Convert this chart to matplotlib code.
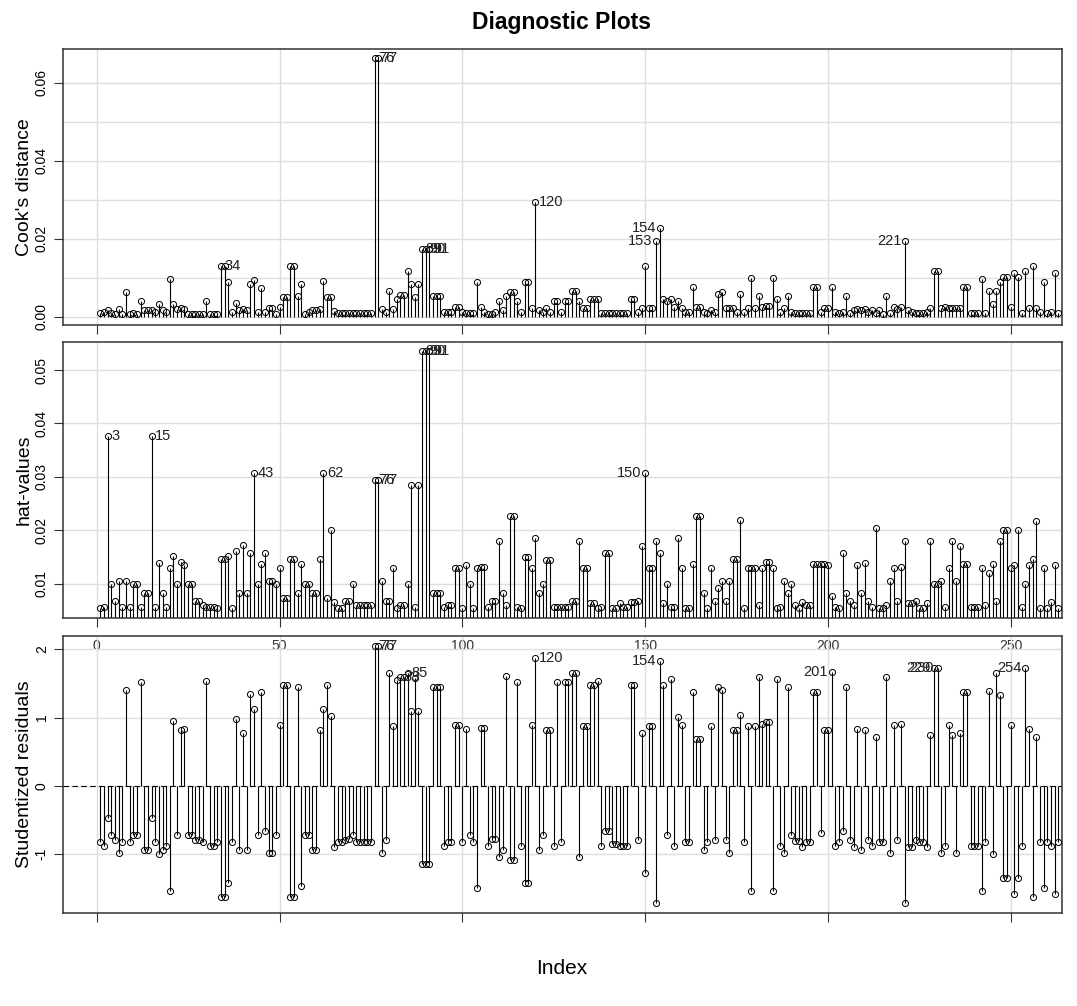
import numpy as np
import matplotlib.pyplot as plt

plt.rcParams['font.family'] = ['Liberation Sans', 'DejaVu Sans']

cooks_d = [
    0.0009, 0.0012, 0.0017, 0.0009, 0.0008, 0.0020, 0.0008, 0.0064, 0.0008, 0.0010,
    0.0008, 0.0041, 0.0017, 0.0017, 0.0017, 0.0012, 0.0032, 0.0017, 0.0012, 0.0097,
    0.0032, 0.0020, 0.0022, 0.0020, 0.0008, 0.0008, 0.0008, 0.0008, 0.0008, 0.0041,
    0.0008, 0.0008, 0.0008, 0.0130, 0.0130, 0.0088, 0.0012, 0.0034, 0.0017, 0.0020,
    0.0017, 0.0083, 0.0093, 0.0012, 0.0074, 0.0012, 0.0021, 0.0021, 0.0008, 0.0026,
    0.0050, 0.0050, 0.0130, 0.0130, 0.0054, 0.0085, 0.0008, 0.0012, 0.0017, 0.0017,
    0.0020, 0.0091, 0.0050, 0.0050, 0.0015, 0.0010, 0.0010, 0.0010, 0.0010, 0.0010,
    0.0010, 0.0010, 0.0010, 0.0010, 0.0010, 0.0662, 0.0662, 0.0020, 0.0012, 0.0067,
    0.0020, 0.0045, 0.0056, 0.0056, 0.0118, 0.0083, 0.0050, 0.0083, 0.0174, 0.0174,
    0.0174, 0.0054, 0.0054, 0.0054, 0.0012, 0.0012, 0.0012, 0.0024, 0.0024, 0.0012,
    0.0010, 0.0010, 0.0010, 0.0088, 0.0024, 0.0012, 0.0008, 0.0008, 0.0012, 0.0041,
    0.0017, 0.0054, 0.0062, 0.0062, 0.0041, 0.0012, 0.0088, 0.0088, 0.0021, 0.0295,
    0.0017, 0.0012, 0.0021, 0.0012, 0.0040, 0.0040, 0.0012, 0.0041, 0.0041, 0.0067,
    0.0067, 0.0041, 0.0021, 0.0021, 0.0045, 0.0045, 0.0045, 0.0010, 0.0010, 0.0010,
    0.0010, 0.0010, 0.0010, 0.0010, 0.0010, 0.0045, 0.0045, 0.0012, 0.0021, 0.0130,
    0.0021, 0.0021, 0.0195, 0.0228, 0.0045, 0.0041, 0.0045, 0.0026, 0.0040, 0.0021,
    0.0012, 0.0012, 0.0075, 0.0026, 0.0026, 0.0012, 0.0010, 0.0017, 0.0012, 0.0057,
    0.0064, 0.0021, 0.0021, 0.0021, 0.0012, 0.0057, 0.0012, 0.0021, 0.0098, 0.0021,
    0.0054, 0.0026, 0.0028, 0.0028, 0.0098, 0.0045, 0.0012, 0.0021, 0.0054, 0.0012,
    0.0010, 0.0010, 0.0010, 0.0010, 0.0010, 0.0075, 0.0075, 0.0012, 0.0021, 0.0021,
    0.0075, 0.0012, 0.0010, 0.0012, 0.0054, 0.0010, 0.0017, 0.0020, 0.0017, 0.0020,
    0.0012, 0.0017, 0.0010, 0.0017, 0.0008, 0.0054, 0.0010, 0.0026, 0.0020, 0.0026,
    0.0195, 0.0017, 0.0012, 0.0010, 0.0010, 0.0010, 0.0012, 0.0021, 0.0118, 0.0118,
    0.0021, 0.0026, 0.0021, 0.0021, 0.0021, 0.0021, 0.0075, 0.0075, 0.0010, 0.0010,
    0.0010, 0.0097, 0.0010, 0.0067, 0.0032, 0.0067, 0.0088, 0.0101, 0.0101, 0.0024,
    0.0111, 0.0101, 0.0010, 0.0118, 0.0021, 0.0130, 0.0021, 0.0012, 0.0088, 0.0010,
    0.0012, 0.0111, 0.0010,
]

hat_values = [
    0.0054, 0.0057, 0.0377, 0.0100, 0.0068, 0.0105, 0.0057, 0.0105, 0.0057, 0.0100,
    0.0100, 0.0057, 0.0082, 0.0082, 0.0377, 0.0057, 0.0138, 0.0082, 0.0057, 0.0129,
    0.0152, 0.0100, 0.0141, 0.0135, 0.0100, 0.0100, 0.0068, 0.0068, 0.0060, 0.0057,
    0.0057, 0.0057, 0.0054, 0.0146, 0.0146, 0.0152, 0.0054, 0.0161, 0.0082, 0.0172,
    0.0082, 0.0157, 0.0308, 0.0100, 0.0137, 0.0158, 0.0105, 0.0105, 0.0100, 0.0129,
    0.0073, 0.0073, 0.0146, 0.0146, 0.0082, 0.0137, 0.0100, 0.0100, 0.0082, 0.0082,
    0.0146, 0.0308, 0.0073, 0.0200, 0.0065, 0.0055, 0.0055, 0.0068, 0.0068, 0.0100,
    0.0060, 0.0060, 0.0060, 0.0060, 0.0060, 0.0294, 0.0294, 0.0105, 0.0068, 0.0068,
    0.0129, 0.0054, 0.0060, 0.0060, 0.0100, 0.0284, 0.0057, 0.0284, 0.0536, 0.0536,
    0.0536, 0.0082, 0.0082, 0.0082, 0.0057, 0.0060, 0.0060, 0.0129, 0.0129, 0.0054,
    0.0135, 0.0100, 0.0054, 0.0129, 0.0132, 0.0132, 0.0057, 0.0068, 0.0068, 0.0180,
    0.0082, 0.0060, 0.0227, 0.0227, 0.0057, 0.0055, 0.0150, 0.0150, 0.0129, 0.0185,
    0.0082, 0.0100, 0.0144, 0.0144, 0.0057, 0.0057, 0.0057, 0.0057, 0.0057, 0.0068,
    0.0068, 0.0180, 0.0129, 0.0129, 0.0064, 0.0064, 0.0054, 0.0057, 0.0158, 0.0158,
    0.0054, 0.0054, 0.0064, 0.0057, 0.0057, 0.0066, 0.0066, 0.0068, 0.0171, 0.0308,
    0.0129, 0.0129, 0.0180, 0.0158, 0.0064, 0.0100, 0.0057, 0.0057, 0.0185, 0.0129,
    0.0054, 0.0054, 0.0137, 0.0227, 0.0227, 0.0082, 0.0054, 0.0129, 0.0068, 0.0091,
    0.0105, 0.0068, 0.0105, 0.0146, 0.0146, 0.0219, 0.0054, 0.0129, 0.0129, 0.0129,
    0.0060, 0.0130, 0.0141, 0.0141, 0.0129, 0.0054, 0.0057, 0.0105, 0.0082, 0.0100,
    0.0060, 0.0054, 0.0066, 0.0060, 0.0060, 0.0137, 0.0137, 0.0137, 0.0137, 0.0135,
    0.0076, 0.0057, 0.0054, 0.0158, 0.0082, 0.0068, 0.0060, 0.0135, 0.0082, 0.0139,
    0.0068, 0.0057, 0.0204, 0.0054, 0.0054, 0.0060, 0.0105, 0.0129, 0.0068, 0.0132,
    0.0180, 0.0064, 0.0064, 0.0068, 0.0054, 0.0054, 0.0064, 0.0180, 0.0100, 0.0100,
    0.0105, 0.0057, 0.0129, 0.0180, 0.0105, 0.0171, 0.0137, 0.0137, 0.0057, 0.0057,
    0.0057, 0.0129, 0.0060, 0.0120, 0.0137, 0.0068, 0.0180, 0.0200, 0.0200, 0.0129,
    0.0135, 0.0200, 0.0057, 0.0100, 0.0135, 0.0146, 0.0217, 0.0054, 0.0129, 0.0054,
    0.0066, 0.0135, 0.0054,
]

stud_resid = [
    -0.83, -0.885, -0.48, -0.73, -0.80, -0.98, -0.83, 1.41, -0.83, -0.73,
    -0.73, 1.52, -0.94, -0.94, -0.48, -0.83, -1.00, -0.94, -0.885, -1.54,
    0.95, -0.73, 0.82, 0.83, -0.73, -0.73, -0.80, -0.80, -0.82, 1.54,
    -0.885, -0.885, -0.82, -1.63, -1.63, -1.42, -0.83, 0.98, -0.94, 0.77,
    -0.94, 1.35, 1.12, -0.73, 1.37, -0.67, -0.98, -0.98, -0.73, 0.89,
    1.48, 1.48, -1.63, -1.63, 1.45, -1.47, -0.73, -0.73, -0.94, -0.94,
    0.81, 1.12, 1.48, 1.02, -0.90, -0.83, -0.83, -0.80, -0.78, -0.73,
    -0.82, -0.82, -0.82, -0.82, -0.82, 2.05, 2.05, -0.98, -0.80, 1.65,
    0.87, 1.55, 1.60, 1.60, 1.65, 1.10, 1.58, 1.10, -1.15, -1.15,
    -1.15, 1.45, 1.45, 1.45, -0.885, -0.82, -0.82, 0.89, 0.89, -0.83,
    0.83, -0.73, -0.83, -1.50, 0.85, 0.85, -0.885, -0.78, -0.78, -1.04,
    -0.94, 1.61, -1.09, -1.09, 1.52, -0.885, -1.42, -1.42, 0.89, 1.87,
    -0.94, -0.73, 0.81, 0.81, -0.885, 1.52, -0.82, 1.52, 1.52, 1.65,
    1.65, -1.05, 0.87, 0.87, 1.48, 1.48, 1.54, -0.885, -0.67, -0.67,
    -0.86, -0.86, -0.885, -0.885, -0.885, 1.48, 1.48, -0.80, 0.77, -1.28,
    0.87, 0.87, -1.72, 1.83, 1.48, -0.73, 1.56, -0.885, 1.01, 0.89,
    -0.83, -0.83, 1.37, 0.68, 0.68, -0.94, -0.83, 0.87, -0.80, 1.44,
    1.41, -0.80, -0.98, 0.82, 0.82, 1.04, -0.83, 0.87, -1.54, 0.87,
    1.60, 0.91, 0.94, 0.94, -1.54, 1.56, -0.885, -0.98, 1.45, -0.73,
    -0.81, -0.81, -0.90, -0.82, -0.82, 1.37, 1.37, -0.70, 0.82, 0.82,
    1.66, -0.885, -0.83, -0.67, 1.45, -0.80, -0.90, 0.83, -0.94, 0.82,
    -0.80, -0.885, 0.72, -0.83, -0.83, 1.60, -0.98, 0.89, -0.80, 0.91,
    -1.72, -0.90, -0.90, -0.79, -0.83, -0.83, -0.90, 0.74, 1.73, 1.73,
    -0.98, -0.885, 0.89, 0.74, -0.98, 0.77, 1.37, 1.37, -0.885, -0.885,
    -0.885, -1.54, -0.82, 1.39, -1.00, 1.65, 1.33, -1.36, -1.36, 0.89,
    -1.59, -1.36, -0.885, 1.73, 0.83, -1.63, 0.71, -0.83, -1.50, -0.83,
    -0.885, -1.59, -0.83,
]

# labelled observations in each panel
cooks_ids = [34, 76, 77, 89, 90, 91, 120, 153, 154, 221]
hat_ids = [3, 15, 43, 62, 76, 77, 89, 90, 91, 150]
stud_ids = [76, 77, 83, 85, 120, 154, 201, 229, 230, 254]

x_ticks = [0, 50, 100, 150, 200, 250]
cooks_grid = [0.00, 0.01, 0.02, 0.03, 0.04, 0.05, 0.06]
cooks_ticks = [0.00, 0.02, 0.04, 0.06]
cooks_tick_labels = ['0.00', '0.02', '0.04', '0.06']
hat_ticks = [0.01, 0.02, 0.03, 0.04, 0.05]
hat_tick_labels = ['0.01', '0.02', '0.03', '0.04', '0.05']
stud_ticks = [-1, 0, 1, 2]
stud_tick_labels = ['-1', '0', '1', '2']

index = np.arange(1, len(cooks_d) + 1)
grid_col = '#dedede'

W, H = 1077, 1006
fig = plt.figure(figsize=(W / 100, H / 100), dpi=100)


def panel(top, bottom):
    left, right = 62.7, 1062
    return fig.add_axes([left / W, 1 - bottom / H, (right - left) / W, (bottom - top) / H])


ax1 = panel(49, 325)
ax2 = panel(342.3, 617.7)
ax3 = panel(636, 912.7)
ax3.patch.set_alpha(0)


def draw(ax, vals, ids, ylim, grid_y, ticks, tick_labels, ylabel):
    vals = np.asarray(vals)
    ax.set_xlim(-9.3, 264)
    ax.set_ylim(*ylim)
    for g in x_ticks:
        ax.axvline(g, color=grid_col, lw=1, zorder=0)
    for g in grid_y:
        ax.axhline(g, color=grid_col, lw=1, zorder=0)
    ax.vlines(index, 0, vals, color='black', lw=0.8, zorder=2)
    ax.plot(index, vals, 'o', ms=4.4, mfc='none', mec='black', mew=0.7, zorder=3)
    mid = index.mean()
    for i in ids:
        v = vals[i - 1]
        if i < mid:
            ax.annotate(str(i), (i, v), xytext=(2.5, 0), textcoords='offset points',
                        ha='left', va='center', fontsize=10.5, color='#222222')
        else:
            ax.annotate(str(i), (i, v), xytext=(-2.5, 0), textcoords='offset points',
                        ha='right', va='center', fontsize=10.5, color='#222222')
    ax.set_xticks(x_ticks)
    ax.set_xticklabels([])
    ax.set_yticks(ticks)
    ax.set_yticklabels(tick_labels, rotation=90, va='center', fontsize=10)
    ax.tick_params(length=6.5, width=0.8, color='#333333')
    ax.set_ylabel(ylabel, fontsize=14)
    ax.yaxis.set_label_coords(-0.03, 0.5)
    for s in ax.spines.values():
        s.set_color('#333333')
        s.set_linewidth(1.1)


draw(ax1, cooks_d, cooks_ids, (-0.00213, 0.0686), cooks_grid, cooks_ticks,
     cooks_tick_labels, "Cook's distance")
draw(ax2, hat_values, hat_ids, (0.00363, 0.0552), hat_ticks, hat_ticks,
     hat_tick_labels, 'hat-values')
draw(ax3, stud_resid, stud_ids, (-1.862, 2.195), stud_ticks, stud_ticks,
     stud_tick_labels, 'Studentized residuals')
ax3.axhline(0, color='black', lw=0.8, ls=(0, (5, 3)), zorder=1)

# in the reference the index labels of the middle panel fall inside the bottom one
ax2.set_xticklabels([str(t) for t in x_ticks], fontsize=10, color='#333333')
ax2.tick_params(axis='x', pad=8.7)

fig.text(562 / W, 1 - 22 / H, 'Diagnostic Plots', ha='center', va='center',
         fontsize=16.5, fontweight='bold')
fig.text(562 / W, 1 - 968 / H, 'Index', ha='center', va='center', fontsize=15)

fig.savefig('out.png', dpi=100)
